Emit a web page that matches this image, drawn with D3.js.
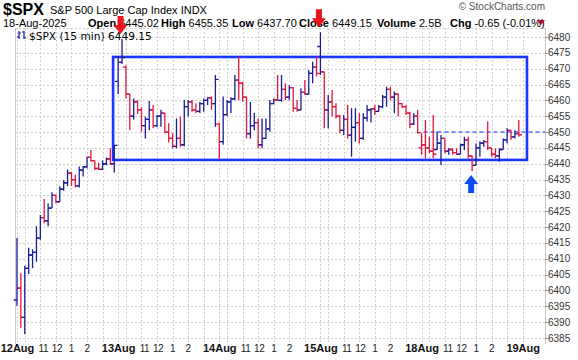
<!DOCTYPE html>
<html><head><meta charset="utf-8">
<script src="https://cdn.jsdelivr.net/npm/d3@7"></script>
<style>
html,body{margin:0;padding:0;background:#fff;}
svg{display:block;font-family:"Liberation Sans",Arial,sans-serif;}
</style></head>
<body><svg id="c" width="578" height="360"></svg>
<script>
// ---- data ----
const dayLabels = ["12Aug","13Aug","14Aug","15Aug","18Aug","19Aug"];
const hourLabels = ["11","12","1","2"];
const hourOffsets = [6,10,14,18];          // bar index within day (15-min bars from 9:30)
const gridOffsets = [0,2,6,10,14,18,22];   // hourly grid positions within a day
const barsPerDay = 26;
const yTicks = d3.range(6385, 6481, 5);

const opens = [
6397,6400.7,6391.5,6407,6411.2,6412,6416.5,6423,6422,6426,6430,6428,6432,6434,6437,6435,6433,6438,6439,6442,6441,6438.5,6438.2,6440,6441.5,6440,
6466,6472,6470.5,6462,6455,6459.5,6457,6452,6454,6457,6452,6455,6456,6450,6448,6445.5,6448,6446,6458,6459.5,6457,6456.5,6459,6460,6460.8,6459,
6452.5,6447,6455.5,6459.5,6460.5,6466.4,6465.4,6461,6449.5,6452,6453,6446,6448,6451,6459,6460.2,6460,6463.5,6461,6464,6457.5,6457,6462.5,6462,6468.5,6470.5,
6477,6469,6457,6459.5,6458,6455,6450.5,6454,6449,6451.5,6453,6448,6454.5,6457,6457.3,6456.5,6458,6461,6463.5,6461,6462,6459,6458,6456,6452.5,6455,
6445,6446,6445,6444,6444.5,6446.5,6448,6444,6444.5,6443.5,6443,6446,6447.5,6442.5,6439.5,6445,6446.5,6447,6445,6443,6442.5,6444.5,6447.5,6450.5,6448.5,6449.5];
const highs = [
6416.6,6405.4,6407.8,6413.5,6413,6420.3,6423.8,6428.9,6427.5,6431,6430.3,6432.8,6434.9,6438.2,6437.5,6436.5,6439.1,6439.3,6442.2,6444.3,6441,6440.3,6441,6442,6444.9,6446,
6474,6479.4,6471,6462.2,6460.6,6460,6457.8,6454.9,6459.8,6458.5,6455.4,6457,6456.2,6452.8,6449.6,6454.3,6454.9,6460.1,6460.1,6460.1,6459.1,6459.5,6460.6,6461,6461.2,6468,
6453,6461.2,6460.1,6461,6468,6473.8,6465.8,6461.2,6459.6,6456,6454.3,6454.3,6454.3,6460.1,6460.5,6468,6468,6465.4,6464.8,6464.2,6460.1,6463.8,6466.4,6469.6,6472.2,6473.8,
6481.5,6469.1,6461.7,6463.3,6459.1,6455.4,6455.4,6458.5,6457.5,6457.5,6455.9,6455.9,6458.5,6457.5,6458.5,6458.5,6461.7,6464.3,6464.3,6462.8,6462.2,6459.1,6458.5,6456.4,6455.9,6457,
6449.6,6453.8,6448.5,6455.4,6450.1,6449.1,6448,6445,6444.9,6444.9,6446.4,6448.5,6448.5,6442.5,6446.4,6447,6447.5,6453.3,6445,6444.9,6444.9,6448,6451.2,6450.6,6450.6,6453.8];
const lows = [
6395.2,6388.2,6386.2,6405.2,6407,6409.1,6416,6421.2,6420.3,6426,6427.5,6428,6431.5,6433,6433,6432.5,6432.5,6436,6438.6,6440.6,6438,6438,6438,6439.5,6439.6,6437.2,
6462,6471.5,6460.6,6450.6,6454,6455.7,6450.1,6448,6450.6,6451.2,6451.5,6451.7,6449.6,6446.7,6444.9,6444.9,6445.4,6445.5,6454.9,6456.4,6455.9,6456,6456.4,6458.5,6457,6451.7,
6441.3,6446,6455,6456,6460,6460,6459.6,6448,6448,6450.6,6444.9,6444.9,6448,6450.1,6458.8,6459.8,6459.6,6460.1,6460.1,6456.4,6456.4,6456.9,6461.7,6461.8,6465.4,6467.5,
6468,6451.2,6451.2,6454.9,6454.3,6449.6,6449.1,6448,6442.2,6447,6446.4,6447.5,6453.3,6453,6455.4,6456.4,6457.5,6458,6460.1,6455.9,6454.9,6457.5,6455.4,6451.2,6452.2,6449.5,
6442.8,6441.7,6443.3,6441.7,6444.3,6439.6,6443.3,6442.8,6442.8,6442.8,6443,6444.3,6441.7,6437.7,6439.5,6442.2,6445.4,6444.3,6442.2,6441.7,6440.6,6444.5,6446.4,6447.5,6448,6448.5];
const closes = [
6400.7,6391.5,6407,6411.2,6412,6416.5,6423,6422,6426,6430,6428,6432,6434,6437,6435,6433,6438,6439,6442,6441,6438.5,6438.2,6440,6441.5,6440,6445.8,
6472,6473.5,6462,6455,6459.5,6457,6452,6454,6457,6452,6455,6456,6450,6448,6445.5,6448,6446,6458,6459.5,6457,6456.5,6459,6460,6460.8,6459,6466.6,
6447,6455.5,6459.5,6460.5,6466.4,6465.4,6461,6449.5,6452,6453,6446,6448,6451,6459,6460.2,6460,6463.5,6461,6464,6457.5,6457,6462.5,6462,6468.5,6470.5,6468.5,
6469,6457,6459.5,6458,6455,6450.5,6454,6449,6451.5,6453,6448,6454.5,6457,6457.3,6456.5,6458,6461,6463.5,6461,6462,6459,6458,6456,6452.5,6455,6449.8,
6446,6445,6444,6443,6446.5,6448,6444,6444.5,6443.5,6443,6446,6447.5,6442.5,6439.5,6445,6446.5,6447,6445,6443,6442.5,6444.5,6447.5,6450.5,6448.5,6449.5,6449.15];
const prevClose = 6373.45;

// annotations (data coordinates)
const boxIdx = [24.7, 131.1];
const boxPrice = [6441.2, 6473.7];
const dashPrice = 6450;
const dashStartIdx = 104.5;
const downArrowIdx = [27, 78];
const upArrowIdx = [117];

// ---- drawing ----
const svg = d3.select("#c");
const plotL = 15, plotR = 545, plotT = 28, plotB = 342;
const x = d3.scaleLinear().domain([0, 130]).range([17, 17 + 3.89 * 130]);
const y = d3.scaleLinear().domain([6385, 6480]).range([338, 37]);

const bars = opens.map((o, i) => ({i, o, h: highs[i], l: lows[i], c: closes[i],
  up: closes[i] >= (i === 0 ? prevClose : closes[i - 1])}));

// grid
const g = svg.append("g");
g.selectAll("line.hg").data(yTicks).join("line")
  .attr("x1", plotL).attr("x2", plotR)
  .attr("y1", d => Math.round(y(d)) + 0.5).attr("y2", d => Math.round(y(d)) + 0.5)
  .attr("stroke", "#cfcfcf").attr("stroke-dasharray", "2,2");
g.append("line").attr("x1", plotL).attr("x2", plotR).attr("y1", plotT + 0.5).attr("y2", plotT + 0.5)
  .attr("stroke", "#cfcfcf").attr("stroke-dasharray", "2,2");
const vgrid = [];
for (let d = 0; d < 5; d++) gridOffsets.forEach(o => vgrid.push(d * barsPerDay + o));
vgrid.push(5 * barsPerDay);
g.selectAll("line.vg").data(vgrid).join("line")
  .attr("x1", d => Math.round(x(d)) + 0.5).attr("x2", d => Math.round(x(d)) + 0.5)
  .attr("y1", plotT).attr("y2", plotB)
  .attr("stroke", "#cfcfcf").attr("stroke-dasharray", "2,2");

// plot borders
svg.append("line").attr("x1", plotL + 0.5).attr("x2", plotL + 0.5).attr("y1", plotT).attr("y2", plotB + 2)
  .attr("stroke", "#c8c8c8");
svg.append("line").attr("x1", plotR + 0.5).attr("x2", plotR + 0.5).attr("y1", plotT).attr("y2", plotB + 2)
  .attr("stroke", "#c8c8c8");

// y axis labels
const ya = svg.append("g");
ya.selectAll("line").data(yTicks).join("line")
  .attr("x1", plotR).attr("x2", plotR + 3)
  .attr("y1", d => Math.round(y(d)) + 0.5).attr("y2", d => Math.round(y(d)) + 0.5)
  .attr("stroke", "#999");
ya.selectAll("text").data(yTicks).join("text")
  .attr("x", plotR + 3).attr("y", d => y(d) + 3.5)
  .attr("font-size", 10).attr("fill", "#333").text(d => d);

// x axis labels
const xa = svg.append("g");
xa.selectAll("text.day").data(dayLabels).join("text")
  .attr("x", (d, k) => x(k * barsPerDay) + 0.5).attr("y", 352)
  .attr("text-anchor", "middle").attr("font-size", 11).attr("font-weight", "bold")
  .attr("fill", "#111").text(d => d);
const hl = [];
for (let d = 0; d < 5; d++) hourLabels.forEach((t, k) => hl.push({t, i: d * barsPerDay + hourOffsets[k], k}));
xa.selectAll("text.hr").data(hl).join("text")
  .attr("x", d => x(d.i) + (d.k === 0 ? 3 : d.k === 1 ? 1 : 0)).attr("y", 352)
  .attr("text-anchor", "middle").attr("font-size", 10).attr("letter-spacing", -0.4)
  .attr("fill", "#222").text(d => d.t);

// box annotation
svg.append("rect")
  .attr("x", x(boxIdx[0])).attr("y", y(boxPrice[1]))
  .attr("width", x(boxIdx[1]) - x(boxIdx[0])).attr("height", y(boxPrice[0]) - y(boxPrice[1]))
  .attr("fill", "none").attr("stroke", "#1b36ff").attr("stroke-width", 2.6);
svg.append("line")
  .attr("x1", x(dashStartIdx)).attr("x2", plotR)
  .attr("y1", y(dashPrice)).attr("y2", y(dashPrice))
  .attr("stroke", "#5c6cf2").attr("stroke-width", 1.4).attr("stroke-dasharray", "4,3");

// OHLC bars
svg.append("g").selectAll("path").data(bars).join("path")
  .attr("d", d => {
    const cx = x(d.i);
    return `M${cx},${y(d.h)}V${y(d.l)}M${cx - 3.2},${y(d.o)}H${cx}M${cx},${y(d.c)}H${cx + 3.2}`;
  })
  .attr("fill", "none").attr("stroke-width", 1.3)
  .attr("stroke", d => d.up ? "#1a1d96" : "#e3173e");

// arrows
function arrowPath(cx, tipY, dir) {
  const hw = 7, hh = 9, sw = 3, sh = 9;
  const b = tipY - dir * hh, s = b - dir * sh;
  return `M${cx},${tipY}L${cx - hw},${b}L${cx - sw},${b}L${cx - sw},${s}L${cx + sw},${s}L${cx + sw},${b}L${cx + hw},${b}Z`;
}
svg.selectAll("path.ua").data(upArrowIdx).join("path")
  .attr("d", d => arrowPath(x(d) - 1, y(lows[d]) + 4, -1)).attr("fill", "#0d4cf2");

// header
const hdr = svg.append("g").attr("fill", "#000");
hdr.append("text").attr("x", 3).attr("y", 14.5).attr("font-size", 16).attr("font-weight", "bold").text("$SPX");
hdr.append("text").attr("x", 50).attr("y", 14).attr("font-size", 11).text("S&P 500 Large Cap Index INDX");
hdr.append("text").attr("x", 545).attr("y", 10).attr("font-size", 10).attr("fill", "#555")
  .attr("text-anchor", "end").text("\u00A9 StockCharts.com");
const row = hdr.append("text").attr("x", 3).attr("y", 27).attr("font-size", 11);
row.append("tspan").text("18-Aug-2025");
[["Open","6445.02",88],["High","6455.35",161],["Low","6437.70",232],["Close","6449.15",299],["Volume","2.5B",377],["Chg","-0.65 (-0.01%)",450]]
  .forEach(([k, v, px]) => {
    row.append("tspan").attr("x", px).attr("font-weight", "bold").text(k);
    row.append("tspan").text(" " + v);
  });
svg.append("path").attr("d", "M537,20L545,20L541,25Z").attr("fill", "#b0102a");

// legend inside plot
const lg = svg.append("g");
lg.append("path").attr("d", "M19,31V39M17,37H19M19,33H21").attr("stroke", "#1a1d96").attr("fill", "none").attr("stroke-width", 1.2);
lg.append("path").attr("d", "M24,31V39M22,32H24M24,38H26").attr("stroke", "#1a1d96").attr("fill", "none").attr("stroke-width", 1.2);
lg.append("text").attr("x", 29).attr("y", 39.5).attr("font-size", 10.6).attr("font-family", "DejaVu Sans")
  .attr("fill", "#000").text("$SPX (15 min) 6449.15");

// red arrows on top of header text
svg.selectAll("path.da").data(downArrowIdx).join("path")
  .attr("d", d => arrowPath(x(d) - 1.5, y(highs[d]) - 5, 1)).attr("fill", "#e8141e");
</script></body></html>
